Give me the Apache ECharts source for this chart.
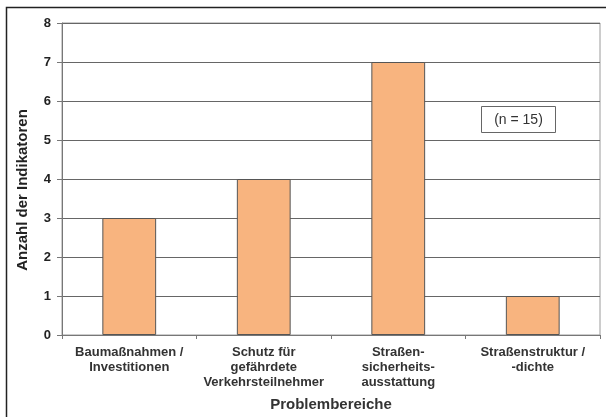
<!DOCTYPE html>
<html>
<head>
<meta charset="utf-8">
<script src="https://cdn.jsdelivr.net/npm/echarts@6/dist/echarts.min.js"></script>
<style>
  html, body { margin: 0; padding: 0; background: #fff; }
  #chart { width: 606px; height: 417px; }
</style>
</head>
<body>
<div id="chart"></div>
<script>
// Problem areas and the number of indicators per area
const categories = [
  'Baumaßnahmen /\nInvestitionen',
  'Schutz für\ngefährdete\nVerkehrsteilnehmer',
  'Straßen-\nsicherheits-\nausstattung',
  'Straßenstruktur /\n-dichte'
];
const indicatorCounts = [3, 4, 7, 1];
const yTicks = [0, 1, 2, 3, 4, 5, 6, 7, 8];
const yAxisTitle = 'Anzahl der Indikatoren';
const xAxisTitle = 'Problembereiche';
const sampleNote = '(n = 15)';

const font = '"Liberation Sans", Arial, sans-serif';
const chart = echarts.init(document.getElementById('chart'), null, { renderer: 'canvas' });

chart.setOption({
  animation: false,
  backgroundColor: '#fff',
  grid: {
    left: 62, right: 6, top: 23, bottom: 82,
    show: true, borderColor: '#9a9a9a', borderWidth: 1, backgroundColor: 'transparent'
  },
  xAxis: {
    type: 'category',
    data: categories,
    name: xAxisTitle,
    nameLocation: 'middle',
    nameGap: 62,
    nameTextStyle: { fontFamily: font, fontSize: 15, fontWeight: 'bold', color: '#333' },
    axisLine: { lineStyle: { color: '#777', width: 1 } },
    axisTick: { show: true, length: 4, lineStyle: { color: '#777' } },
    axisLabel: {
      interval: 0, margin: 10,
      fontFamily: font, fontSize: 13, fontWeight: 'bold', color: '#333', lineHeight: 15
    }
  },
  yAxis: {
    type: 'value',
    min: yTicks[0], max: yTicks[yTicks.length - 1], interval: 1,
    axisLine: { show: true, lineStyle: { color: '#777', width: 1 } },
    axisTick: { show: true, length: 5, lineStyle: { color: '#777' } },
    axisLabel: { margin: 11, fontFamily: font, fontSize: 13, fontWeight: 'bold', color: '#222' },
    splitLine: { show: true, lineStyle: { color: '#666', width: 1 } }
  },
  series: [{
    type: 'bar',
    data: indicatorCounts,
    barWidth: '40%',
    itemStyle: { color: '#F8B47F', borderColor: '#555', borderWidth: 1 }
  }],
  graphic: [
    {
      // outer frame around the whole figure
      type: 'rect',
      shape: { x: 6.5, y: 7.5, width: 620, height: 430 },
      style: { fill: 'none', stroke: '#222', lineWidth: 1.5 },
      silent: true, z: 100
    },
    {
      // vertical axis title
      type: 'text',
      x: 23, y: 190,
      rotation: Math.PI / 2,
      style: {
        text: yAxisTitle, fontFamily: font, fontSize: 15, fontWeight: 'bold', fill: '#222',
        align: 'center', verticalAlign: 'middle'
      },
      z: 50
    },
    {
      type: 'group',
      left: 481, top: 106,
      z: 50,
      children: [
        {
          type: 'rect',
          shape: { x: 0.5, y: 0.5, width: 74, height: 26 },
          style: { fill: '#fff', stroke: '#666', lineWidth: 1 }
        },
        {
          type: 'text',
          x: 37.5, y: 14,
          style: {
            text: sampleNote, fontFamily: font, fontSize: 14, fill: '#333',
            align: 'center', verticalAlign: 'middle'
          }
        }
      ]
    }
  ]
});
</script>
</body>
</html>
